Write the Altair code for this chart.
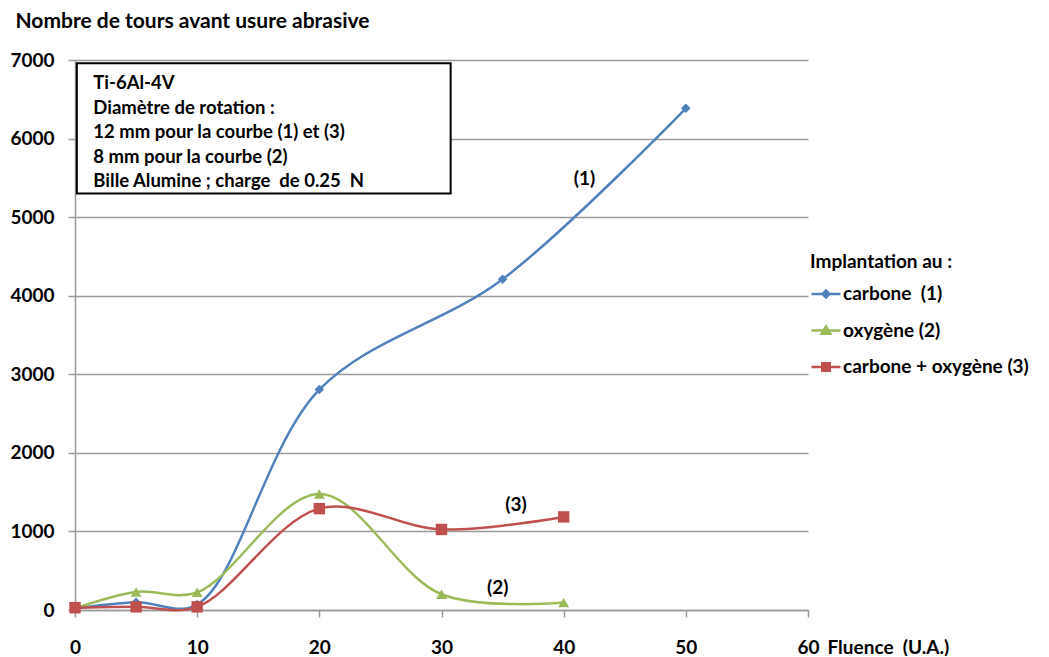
import altair as alt
import pandas as pd

NB = "\u00a0"

# ---- data ----
series_names = ["carbone" + NB + " (1)", "oxygène (2)", "carbone + oxygène (3)"]
series_colors = ["#4F81BD", "#9BBB59", "#C0504D"]
series_shapes = ["diamond", "triangle-up", "square"]
series_sizes = [90, 120, 130]

carbone_x = [0, 5, 10, 20, 35, 50]
carbone_y = [20, 100, 70, 2805, 4210, 6385]
oxygene_x = [0, 5, 10, 20, 30, 40]
oxygene_y = [20, 230, 225, 1475, 200, 95]
mixte_x = [0, 5, 10, 20, 30, 40]
mixte_y = [30, 40, 40, 1290, 1025, 1185]

curve_labels = ["(1)", "(2)", "(3)"]
curve_label_x = [41.7, 34.6, 36.1]
curve_label_y = [5480, 283, 1331]

box_lines = [
    "Ti-6Al-4V",
    "Diamètre de rotation :",
    "12 mm pour la courbe (1) et (3)",
    "8 mm pour la courbe (2)",
    "Bille Alumine ; charge" + NB + " de 0.25" + NB + " N",
]
box_x = [0.15, 30.75]
box_y = [5300, 6960]
box_text_pos = [1.5, 6625]

x_ticks = [0, 10, 20, 30, 40, 50, 60]
y_ticks = [0, 1000, 2000, 3000, 4000, 5000, 6000, 7000]

# legend symbols: a short line with the marker on it
legend_paths = [
    "M-1,0L1,0M0,-0.24L0.24,0L0,0.24L-0.24,0Z",
    "M-1,0L1,0M0,-0.28L0.3,0.22L-0.3,0.22Z",
    "M-1,0L1,0M-0.26,-0.26L0.26,-0.26L0.26,0.26L-0.26,0.26Z",
]

FONT = "Lato"
AX = "#9a9a9a"
FS = 19

rows = []
for name, xs, ys in zip(series_names, [carbone_x, oxygene_x, mixte_x], [carbone_y, oxygene_y, mixte_y]):
    for xv, yv in zip(xs, ys):
        rows.append({"serie": name, "fluence": xv, "tours": yv})
df = pd.DataFrame(rows)

xscale = alt.Scale(domain=[0, 60], nice=False)
yscale = alt.Scale(domain=[0, 7000], nice=False)

x_axis = alt.Axis(
    values=x_ticks, grid=False, tickSize=7, tickColor=AX, tickWidth=1.5,
    domainColor=AX, domainWidth=1.5, labelPadding=21, format="d",
    labelFont=FONT, labelFontSize=FS, labelFontWeight="bold", labelColor="black",
    labelFlush=False,
    title="Fluence" + NB + " (U.A.)", titleFont=FONT, titleFontSize=FS, titleFontWeight="bold",
    titleColor="black", titleAlign="left", titleBaseline="middle",
    titleX=752, titleY=37, titleAnchor="start",
)
y_axis = alt.Axis(
    values=y_ticks, grid=True, gridColor=AX, gridWidth=1.5, tickSize=7,
    tickColor=AX, tickWidth=1.5, domainColor=AX, domainWidth=1.5, format="d",
    labelPadding=14, labelFont=FONT, labelFontSize=FS, labelFontWeight="bold",
    labelColor="black", labelFlush=False,
    title="Nombre de tours avant usure abrasive", titleFont=FONT, titleFontSize=21,
    titleFontWeight="bold", titleColor="black", titleAngle=0, titleAlign="left",
    titleBaseline="middle", titleX=-60, titleY=-39, titleAnchor="start",
)
x_enc = alt.X("fluence:Q", scale=xscale, axis=x_axis)
y_enc = alt.Y("tours:Q", scale=yscale, axis=y_axis)

base = alt.Chart(df)
layers = []

# annotation box
box_df = pd.DataFrame({"x1": [box_x[0]], "x2": [box_x[1]], "y1": [box_y[0]], "y2": [box_y[1]]})
layers.append(
    alt.Chart(box_df).mark_rect(fill="white", stroke="black", strokeWidth=2).encode(
        x=alt.X("x1:Q", scale=xscale, axis=x_axis), x2="x2:Q",
        y=alt.Y("y1:Q", scale=yscale, axis=y_axis), y2="y2:Q",
    )
)
boxt_df = pd.DataFrame({"x": [box_text_pos[0]], "y": [box_text_pos[1]]})
layers.append(
    alt.Chart(boxt_df).mark_text(
        text=box_lines, align="left", baseline="alphabetic", lineHeight=24.5,
        font=FONT, fontSize=18.5, fontWeight="bold", color="black",
    ).encode(x=alt.X("x:Q", scale=xscale), y=alt.Y("y:Q", scale=yscale))
)

# series lines and markers
for name, col, shp, sz in zip(series_names, series_colors, series_shapes, series_sizes):
    sub = base.transform_filter(alt.datum.serie == name)
    layers.append(
        sub.mark_line(interpolate="catmull-rom", color=col, strokeWidth=2.5).encode(x=x_enc, y=y_enc)
    )
    layers.append(
        sub.mark_point(shape=shp, filled=True, color=col, size=sz, opacity=1).encode(x=x_enc, y=y_enc)
    )

# legend-only layer (no marks drawn)
leg = alt.Legend(
    orient="none", legendX=735, legendY=193, title="Implantation au :",
    titleFont=FONT, titleFontSize=FS, titleFontWeight="bold", titleColor="black",
    labelFont=FONT, labelFontSize=FS, labelFontWeight="bold", labelColor="black",
    symbolSize=841, symbolStrokeWidth=2.5, rowPadding=10.5, titlePadding=6,
    labelOffset=1, padding=0, labelLimit=300,
)
layers.append(
    base.transform_filter("false").mark_point(strokeWidth=2.5, opacity=1, fillOpacity=1).encode(
        x=x_enc, y=y_enc,
        fill=alt.Fill("serie:N", scale=alt.Scale(domain=series_names, range=series_colors), legend=leg),
        stroke=alt.Stroke("serie:N", scale=alt.Scale(domain=series_names, range=series_colors), legend=leg),
        shape=alt.Shape("serie:N", scale=alt.Scale(domain=series_names, range=legend_paths), legend=leg),
    )
)

# curve labels
lab_df = pd.DataFrame({"lab": curve_labels, "x": curve_label_x, "y": curve_label_y})
layers.append(
    alt.Chart(lab_df).mark_text(
        font=FONT, fontSize=FS, fontWeight="bold", color="black", baseline="middle", align="center"
    ).encode(x=alt.X("x:Q", scale=xscale), y=alt.Y("y:Q", scale=yscale), text="lab:N")
)

chart = alt.layer(*layers).properties(
    width=733, height=550,
    autosize=alt.AutoSizeParams(type="none"),
    padding={"left": 67, "top": 52, "right": 230, "bottom": 46},
    background="white",
).configure_view(stroke=None)

chart.save("out.html", embed_options={"renderer": "svg", "actions": False})
